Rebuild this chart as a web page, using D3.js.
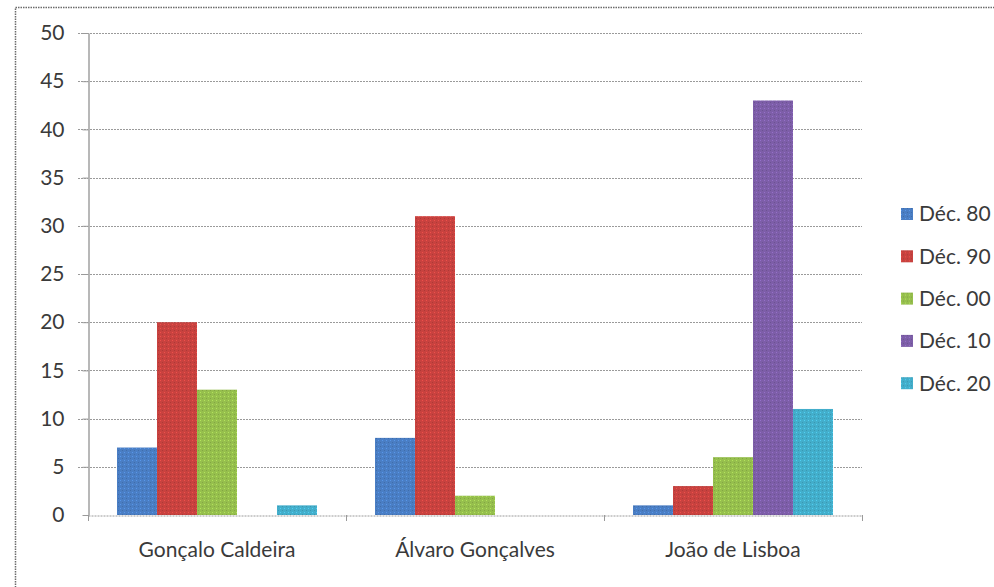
<!DOCTYPE html>
<html>
<head>
<meta charset="utf-8">
<script src="https://cdn.jsdelivr.net/npm/d3@7"></script>
<style>
  html, body { margin: 0; padding: 0; background: #fff; }
  svg { display: block; }
  text { font-family: Lato, "Open Sans", sans-serif; fill: #3a3a3a; }
</style>
</head>
<body>
<svg id="chart" width="994" height="587"></svg>
<script>
// Categories, series and values
const categories = ["Gonçalo Caldeira", "Álvaro Gonçalves", "João de Lisboa"];
const seriesNames = ["Déc. 80", "Déc. 90", "Déc. 00", "Déc. 10", "Déc. 20"];
const dec80 = [7, 8, 1];
const dec90 = [20, 31, 3];
const dec00 = [13, 2, 6];
const dec10 = [0, 0, 43];
const dec20 = [1, 0, 11];
const yTicks = [0, 5, 10, 15, 20, 25, 30, 35, 40, 45, 50];
const seriesColors = ["#4a7ec4", "#c8423f", "#96bf4d", "#7d5ea8", "#43aecb"];

const seriesValues = [dec80, dec90, dec00, dec10, dec20];

const svg = d3.select("#chart");
const plotLeft = 88, plotRight = 862, plotTop = 33, plotBottom = 515;
const fontSize = "21px";

// Outer dotted frame of the chart area
svg.append("rect")
  .attr("x", 15.5).attr("y", 7.5)
  .attr("width", 1000).attr("height", 600)
  .attr("fill", "none")
  .attr("stroke", "#6b6b6b")
  .attr("stroke-width", 1.5)
  .attr("stroke-dasharray", "1.5,1");

const y = d3.scaleLinear().domain([0, 50]).range([plotBottom, plotTop]);
const x0 = d3.scaleBand().domain(categories).range([plotLeft, plotRight]).paddingInner(0).paddingOuter(0);
const x1 = d3.scaleBand().domain(seriesNames).range([0, x0.bandwidth()]).paddingOuter(0.725).paddingInner(0);

// Gridlines
svg.append("g")
  .selectAll("line")
  .data(yTicks.filter(d => d > 0))
  .join("line")
  .attr("x1", plotLeft - 10).attr("x2", plotRight)
  .attr("y1", d => Math.round(y(d)) + 0.5).attr("y2", d => Math.round(y(d)) + 0.5)
  .attr("stroke", "#9a9a9a")
  .attr("stroke-width", 1)
  .attr("stroke-dasharray", "2,1");

// Texture pattern per series for the stippled fill
const defs = svg.append("defs");
seriesColors.forEach((c, i) => {
  const p = defs.append("pattern")
    .attr("id", "pat" + i)
    .attr("width", 4).attr("height", 4)
    .attr("patternUnits", "userSpaceOnUse");
  p.append("rect").attr("width", 4).attr("height", 4).attr("fill", c);
  p.append("rect").attr("x", 0).attr("y", 0).attr("width", 1).attr("height", 1)
    .attr("fill", d3.color(c).brighter(0.5));
  p.append("rect").attr("x", 2).attr("y", 2).attr("width", 1).attr("height", 1)
    .attr("fill", d3.color(c).darker(0.4));
});

// Bars
const groups = svg.append("g")
  .selectAll("g")
  .data(categories)
  .join("g")
  .attr("transform", d => `translate(${x0(d)},0)`);

groups.selectAll("rect")
  .data((d, ci) => seriesNames.map((s, si) => ({ s, si, v: seriesValues[si][ci] })).filter(d => d.v > 0))
  .join("rect")
  .attr("x", d => x1(d.s))
  .attr("y", d => y(d.v))
  .attr("width", x1.bandwidth())
  .attr("height", d => y(0) - y(d.v))
  .attr("fill", d => `url(#pat${d.si})`);

// Y axis
const yAxis = svg.append("g")
  .attr("transform", `translate(${plotLeft + 0.5},0)`)
  .call(d3.axisLeft(y).tickValues(yTicks).tickSize(6).tickSizeOuter(0).tickPadding(18));
yAxis.select(".domain").attr("stroke", "#b8b8b8").attr("stroke-width", 2);
yAxis.selectAll(".tick line").attr("stroke", "#9a9a9a");
yAxis.selectAll("text").style("font-size", fontSize).attr("fill", "#3a3a3a");

// X axis
const xAxis = svg.append("g")
  .attr("transform", `translate(0,${plotBottom + 0.5})`)
  .call(d3.axisBottom(x0).tickSize(0).tickPadding(27));
xAxis.select(".domain").attr("stroke", "#9a9a9a").attr("stroke-dasharray", "2,1");
xAxis.selectAll("text").style("font-size", fontSize).attr("fill", "#3a3a3a");
// Boundary ticks between categories
svg.append("g")
  .selectAll("line")
  .data(categories.map(c => x0(c)).concat([plotRight]))
  .join("line")
  .attr("x1", d => Math.round(d) + 0.5).attr("x2", d => Math.round(d) + 0.5)
  .attr("y1", plotBottom).attr("y2", plotBottom + 6)
  .attr("stroke", "#9a9a9a");

// Legend
const legend = svg.append("g")
  .selectAll("g")
  .data(seriesNames)
  .join("g")
  .attr("transform", (d, i) => `translate(901,${214 + i * 42.3})`);
legend.append("rect")
  .attr("x", 0).attr("y", -6)
  .attr("width", 12).attr("height", 12)
  .attr("fill", (d, i) => `url(#pat${i})`);
legend.append("text")
  .attr("x", 18).attr("y", 0)
  .attr("dy", "0.35em")
  .style("font-size", fontSize)
  .text(d => d);
</script>
</body>
</html>
